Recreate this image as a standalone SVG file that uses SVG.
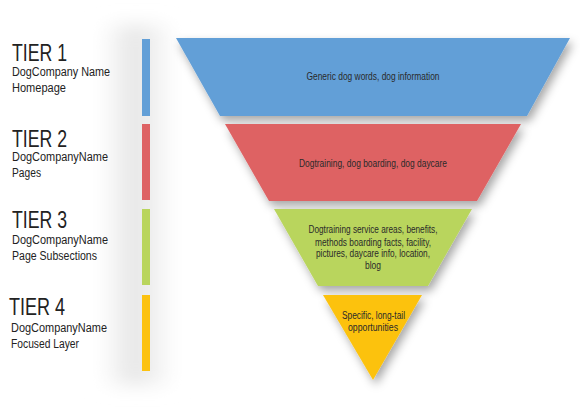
<svg xmlns="http://www.w3.org/2000/svg" width="580" height="410" viewBox="0 0 580 410">
<defs>
<filter id="sh" x="-20%" y="-20%" width="140%" height="160%">
<feDropShadow dx="3" dy="5" stdDeviation="5" flood-color="#000" flood-opacity="0.35"/>
</filter>
<filter id="blur" x="-50%" y="-10%" width="200%" height="120%">
<feGaussianBlur stdDeviation="9"/>
</filter>
<linearGradient id="band" x1="0" y1="0" x2="1" y2="0">
<stop offset="0" stop-color="#ffffff"/>
<stop offset="0.45" stop-color="#e6e6e6"/>
<stop offset="0.7" stop-color="#efefef"/>
<stop offset="1" stop-color="#ffffff"/>
</linearGradient>
<style>
.tier{font-family:"Liberation Sans Narrow","Liberation Sans",Arial,sans-serif;font-size:23px;fill:#222}
.sub{font-family:"Liberation Sans Narrow","Liberation Sans",Arial,sans-serif;font-size:12.5px;fill:#222}
.lbl{font-family:"Liberation Sans Narrow","Liberation Sans",Arial,sans-serif;font-size:10px;fill:#2a2a2a;text-anchor:middle}
.blue{fill:#629fd7}
.red{fill:#de6264}
.green{fill:#b9d55d}
.yellow{fill:#fcc210}
</style>
</defs>
<rect width="580" height="410" fill="#ffffff"/>
<rect x="100" y="25" width="75" height="360" fill="url(#band)" filter="url(#blur)"/>

<g id="tier1">
<text class="tier" x="12" y="61" textLength="55" lengthAdjust="spacingAndGlyphs">TIER 1</text>
<text class="sub" x="12" y="76" textLength="98" lengthAdjust="spacingAndGlyphs">DogCompany Name</text>
<text class="sub" x="12" y="92" textLength="54" lengthAdjust="spacingAndGlyphs">Homepage</text>
<rect class="blue" x="142" y="39" width="8" height="77"/>
</g>
<g id="tier2">
<text class="tier" x="12" y="147" textLength="55" lengthAdjust="spacingAndGlyphs">TIER 2</text>
<text class="sub" x="12" y="161" textLength="96" lengthAdjust="spacingAndGlyphs">DogCompanyName</text>
<text class="sub" x="12" y="177" textLength="29" lengthAdjust="spacingAndGlyphs">Pages</text>
<rect class="red" x="142" y="124" width="8" height="76"/>
</g>
<g id="tier3">
<text class="tier" x="12" y="228" textLength="55" lengthAdjust="spacingAndGlyphs">TIER 3</text>
<text class="sub" x="12" y="244" textLength="96" lengthAdjust="spacingAndGlyphs">DogCompanyName</text>
<text class="sub" x="12" y="260" textLength="85" lengthAdjust="spacingAndGlyphs">Page Subsections</text>
<rect class="green" x="142" y="209" width="8" height="76"/>
</g>
<g id="tier4">
<text class="tier" x="9" y="315" textLength="56" lengthAdjust="spacingAndGlyphs">TIER 4</text>
<text class="sub" x="11" y="332" textLength="96" lengthAdjust="spacingAndGlyphs">DogCompanyName</text>
<text class="sub" x="11" y="348" textLength="68" lengthAdjust="spacingAndGlyphs">Focused Layer</text>
<rect class="yellow" x="142" y="295" width="8" height="76"/>
</g>

<g id="funnel1">
<polygon class="blue" points="176,38 570,38 527,116 220,116" filter="url(#sh)"/>
<text class="lbl" x="373" y="80" textLength="133" lengthAdjust="spacingAndGlyphs">Generic dog words, dog information</text>
</g>
<g id="funnel2">
<polygon class="red" points="225,124 521,124 477,201 269,201" filter="url(#sh)"/>
<text class="lbl" x="373" y="167" textLength="148" lengthAdjust="spacingAndGlyphs">Dogtraining, dog boarding, dog daycare</text>
</g>
<g id="funnel3">
<polygon class="green" points="274,209 472,209 428,286 318,286" filter="url(#sh)"/>
<text class="lbl" x="373" y="233" textLength="129" lengthAdjust="spacingAndGlyphs">Dogtraining service areas, benefits,</text>
<text class="lbl" x="373" y="245.5" textLength="116" lengthAdjust="spacingAndGlyphs">methods boarding facts, facility,</text>
<text class="lbl" x="373" y="257" textLength="114" lengthAdjust="spacingAndGlyphs">pictures, daycare info, location,</text>
<text class="lbl" x="373" y="268.5" textLength="16" lengthAdjust="spacingAndGlyphs">blog</text>
</g>
<g id="funnel4">
<polygon class="yellow" points="323,295 422,295 373,380" filter="url(#sh)"/>
<text class="lbl" x="373.5" y="319" textLength="63" lengthAdjust="spacingAndGlyphs">Specific, long-tail</text>
<text class="lbl" x="373" y="330.5" textLength="50" lengthAdjust="spacingAndGlyphs">opportunities</text>
</g>
<g id="connectors"></g>
</svg>
